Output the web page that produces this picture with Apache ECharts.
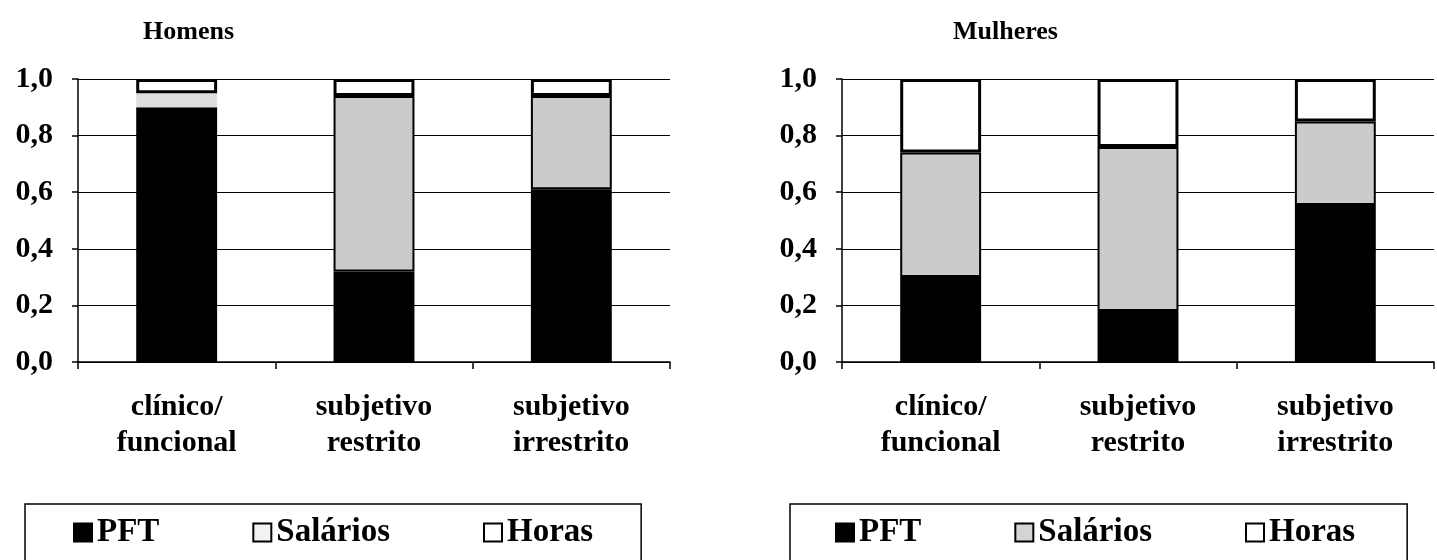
<!DOCTYPE html>
<html>
<head>
<meta charset="utf-8">
<script src="https://cdn.jsdelivr.net/npm/echarts@6/dist/echarts.min.js"></script>
<style>html,body{margin:0;padding:0;background:#fff;}#c{width:1437px;height:560px;}</style>
</head>
<body>
<div id="c"></div>
<script>
const categories = ['clínico/\nfuncional', 'subjetivo\nrestrito', 'subjetivo\nirrestrito'];
const seriesNames = ['PFT', 'Salários', 'Horas'];
const homensPFT = [0.90, 0.32, 0.61];
const homensSalarios = [0.05, 0.62, 0.33];
const homensHoras = [0.05, 0.06, 0.06];
const mulheresPFT = [0.30, 0.18, 0.555];
const mulheresSalarios = [0.44, 0.58, 0.295];
const mulheresHoras = [0.26, 0.24, 0.15];
const titles = ['Homens', 'Mulheres'];

const FONT = '"Liberation Serif", "Times New Roman", serif';
const chart = echarts.init(document.getElementById('c'));

function yAxis(i) {
  return {
    type: 'value', gridIndex: i, min: 0, max: 1, interval: 0.2,
    axisLine: {show: true, lineStyle: {color: '#000', width: 1.5}},
    axisTick: {show: true, length: 6, lineStyle: {color: '#000', width: 1.5}},
    splitLine: {show: true, lineStyle: {color: '#000', width: 1.2}},
    axisLabel: {
      margin: 25, color: '#000', fontFamily: FONT, fontWeight: 'bold', fontSize: 30,
      formatter: v => v.toFixed(1).replace('.', ',')
    }
  };
}
function xAxis(i) {
  return {
    type: 'category', gridIndex: i, data: categories, boundaryGap: true,
    axisLine: {show: true, lineStyle: {color: '#000', width: 1.5}},
    axisTick: {show: true, length: 7, alignWithLabel: false, lineStyle: {color: '#000', width: 1.5}},
    axisLabel: {
      margin: 27, color: '#000', fontFamily: FONT, fontWeight: 'bold', fontSize: 30,
      lineHeight: 36, interval: 0
    }
  };
}
function bars(i, stack, pft, sal, hor, salFirstColor) {
  const base = {type: 'bar', stack: stack, xAxisIndex: i, yAxisIndex: i, barWidth: '41%',
    emphasis: {disabled: true}};
  return [
    Object.assign({}, base, {name: 'PFT', data: pft,
      itemStyle: {color: '#000', borderColor: '#000', borderWidth: 2}}),
    Object.assign({}, base, {name: 'Salários',
      data: sal.map((v, k) => (k === 0 && salFirstColor) ? {value: v, itemStyle: {color: salFirstColor, borderWidth: 0}} : v),
      itemStyle: {color: '#cbcbcb', borderColor: '#000', borderWidth: 2}}),
    Object.assign({}, base, {name: 'Horas', data: hor,
      itemStyle: {color: '#fff', borderColor: '#000', borderWidth: 3}})
  ];
}
function legend(left, salColor, padL, padR) {
  return {
    left: left, top: 504, orient: 'horizontal',
    borderColor: '#000', borderWidth: 1.5, padding: [12, padR, 30, padL],
    itemWidth: 18, itemHeight: 18, itemGap: 93, icon: 'rect',
    selectedMode: false,
    itemStyle: {borderColor: '#000', borderWidth: 2},
    textStyle: {color: '#000', fontFamily: FONT, fontWeight: 'bold', fontSize: 33},
    data: [
      {name: seriesNames[0], itemStyle: {color: '#000'}},
      {name: seriesNames[1], itemStyle: {color: salColor}},
      {name: seriesNames[2], itemStyle: {color: '#fff'}}
    ]
  };
}

chart.setOption({
  backgroundColor: '#fff',
  animation: false,
  title: [
    {text: titles[0], left: 143, top: 19, padding: 0,
      textStyle: {color: '#000', fontFamily: FONT, fontWeight: 'bold', fontSize: 26}},
    {text: titles[1], left: 953, top: 19, padding: 0,
      textStyle: {color: '#000', fontFamily: FONT, fontWeight: 'bold', fontSize: 26}}
  ],
  grid: [
    {left: 78, top: 79, width: 592, height: 283},
    {left: 842, top: 79, width: 592, height: 283}
  ],
  xAxis: [xAxis(0), xAxis(1)],
  yAxis: [yAxis(0), yAxis(1)],
  legend: [legend(25, '#f2f2f2', 48, 48), legend(790, '#d4d4d4', 45, 52)],
  series: [].concat(
    bars(0, 'h', homensPFT, homensSalarios, homensHoras, '#dedede'),
    bars(1, 'm', mulheresPFT, mulheresSalarios, mulheresHoras, null)
  )
});
</script>
</body>
</html>
